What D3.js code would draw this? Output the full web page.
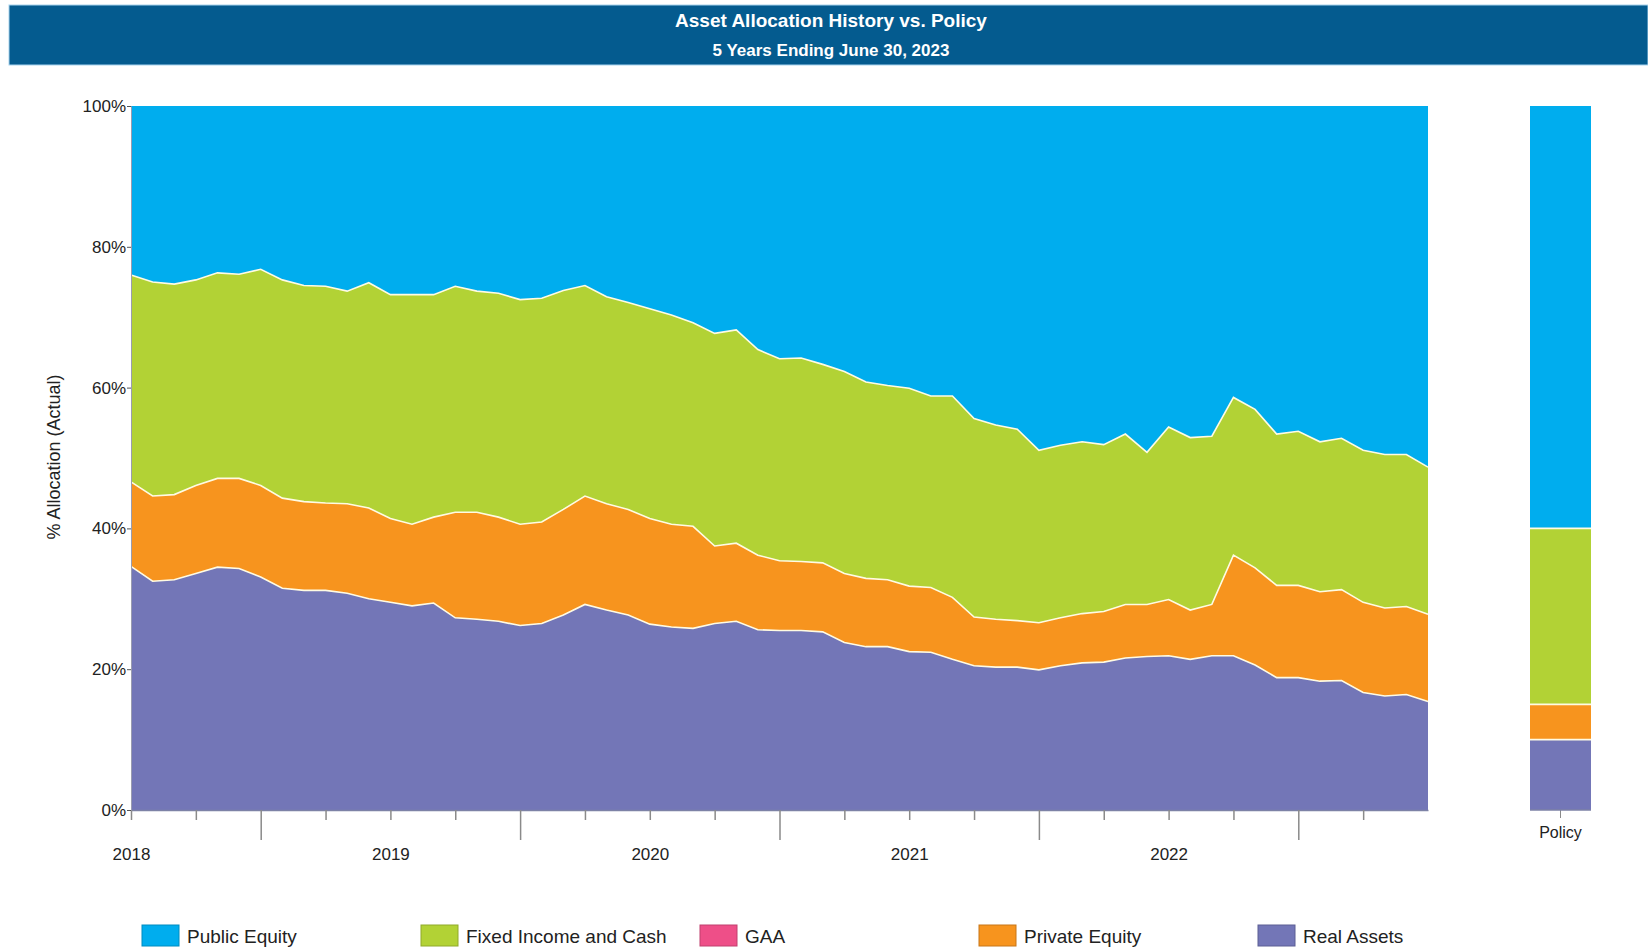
<!DOCTYPE html>
<html>
<head>
<meta charset="utf-8">
<script src="https://cdn.jsdelivr.net/npm/d3@7"></script>
<style>
  body { margin: 0; background: #fff; }
  #container svg { display: block; font-family: "Liberation Sans", Arial, sans-serif; }
</style>
</head>
<body>
<div id="container"></div>
<script>
// legend order (top of chart first)
const seriesNames = ["Public Equity", "Fixed Income and Cash", "GAA", "Private Equity", "Real Assets"];
const seriesColors = ["#00adee", "#b2d235", "#ee4f88", "#f7941e", "#7376b7"];
// stacking order, bottom to top
const stackOrder = ["Real Assets", "Private Equity", "GAA", "Fixed Income and Cash", "Public Equity"];

// monthly % allocation, Jun 2018 .. Jun 2023
const realAssets = [34.6, 32.5, 32.7, 33.6, 34.5, 34.3, 33.1, 31.5, 31.2, 31.2, 30.8, 30.0, 29.5, 29.0, 29.4, 27.3,
  27.1, 26.8, 26.2, 26.5, 27.7, 29.2, 28.4, 27.7, 26.4, 26.0, 25.8, 26.5, 26.8, 25.6, 25.5, 25.5, 25.3, 23.8, 23.2,
  23.2, 22.5, 22.4, 21.4, 20.5, 20.3, 20.3, 19.9, 20.5, 20.9, 21.0, 21.6, 21.8, 21.9, 21.4, 21.9, 21.9, 20.6, 18.8,
  18.8, 18.3, 18.4, 16.7, 16.2, 16.4, 15.4];
const privateEquity = [12.0, 12.1, 12.1, 12.5, 12.6, 12.8, 13.0, 12.8, 12.6, 12.4, 12.7, 12.9, 11.9, 11.6, 12.2, 15.0,
  15.2, 14.8, 14.4, 14.4, 15.0, 15.4, 15.1, 15.0, 15.0, 14.6, 14.5, 11.0, 11.1, 10.6, 9.9, 9.8, 9.8, 9.8, 9.7,
  9.5, 9.3, 9.2, 8.8, 6.9, 6.8, 6.6, 6.7, 6.8, 7.0, 7.2, 7.6, 7.4, 8.0, 7.0, 7.3, 14.3, 13.8, 13.1,
  13.1, 12.7, 12.9, 12.8, 12.5, 12.5, 12.4];
const gaa = [0, 0, 0, 0, 0, 0, 0, 0, 0, 0, 0, 0, 0, 0, 0, 0, 0, 0, 0, 0, 0, 0, 0, 0, 0, 0, 0, 0, 0, 0, 0,
  0, 0, 0, 0, 0, 0, 0, 0, 0, 0, 0, 0, 0, 0, 0, 0, 0, 0, 0, 0, 0, 0, 0, 0, 0, 0, 0, 0, 0, 0];
const fixedIncome = [29.4, 30.4, 29.9, 29.2, 29.2, 29.0, 30.7, 31.0, 30.7, 30.8, 30.2, 32.0, 31.8, 32.6, 31.6, 32.1,
  31.4, 31.8, 31.9, 31.8, 31.1, 29.9, 29.4, 29.4, 29.8, 29.7, 28.9, 30.2, 30.3, 29.2, 28.7, 28.9, 28.2, 28.7, 27.9,
  27.6, 28.1, 27.2, 28.6, 28.2, 27.6, 27.2, 24.5, 24.5, 24.4, 23.7, 24.2, 21.6, 24.5, 24.5, 23.9, 22.4, 22.5, 21.5,
  21.9, 21.3, 21.5, 21.6, 21.8, 21.6, 20.9];
const publicEquity = [24.0, 25.0, 25.3, 24.7, 23.7, 23.9, 23.2, 24.7, 25.5, 25.6, 26.3, 25.1, 26.8, 26.8, 26.8, 25.6,
  26.3, 26.6, 27.5, 27.3, 26.2, 25.5, 27.1, 27.9, 28.8, 29.7, 30.8, 32.3, 31.8, 34.6, 35.9, 35.8, 36.7, 37.7, 39.2,
  39.7, 40.1, 41.2, 41.2, 44.4, 45.3, 45.9, 48.9, 48.2, 47.7, 48.1, 46.6, 49.2, 45.6, 47.1, 46.9, 41.4, 43.1, 46.6,
  46.2, 47.7, 47.2, 48.9, 49.5, 49.5, 51.3];

// policy targets, same order as seriesNames
const policyValues = [60, 25, 0, 5, 10];

const yearLabels = ["2018", "2019", "2020", "2021", "2022"];
const yTicks = [0, 20, 40, 60, 80, 100];

const width = 1648, height = 951;
const plotLeft = 131, plotRight = 1428, plotTop = 106, plotBottom = 810;

const months = d3.utcMonths(new Date(Date.UTC(2018, 5, 1)), new Date(Date.UTC(2023, 6, 1)));
const valuesByName = {
  "Public Equity": publicEquity,
  "Fixed Income and Cash": fixedIncome,
  "GAA": gaa,
  "Private Equity": privateEquity,
  "Real Assets": realAssets
};
const rows = months.map((m, i) => {
  const row = { date: m, idx: i };
  seriesNames.forEach(n => row[n] = valuesByName[n][i]);
  return row;
});
const colorOf = d3.scaleOrdinal(seriesNames, seriesColors);

const x = d3.scaleLinear([0, months.length - 1], [plotLeft, plotRight]);
const y = d3.scaleLinear([0, 100], [plotBottom, plotTop]);

const svg = d3.select("#container").append("svg")
  .attr("width", width)
  .attr("height", height)
  .attr("viewBox", [0, 0, width, height]);

// header band
svg.append("rect")
  .attr("x", 9).attr("y", 5)
  .attr("width", width - 9).attr("height", 60)
  .attr("fill", "#045b8f")
  .attr("stroke", "#a8d4ee")
  .attr("stroke-width", 1);

svg.append("text")
  .attr("x", 831).attr("y", 20)
  .attr("dy", "0.35em")
  .attr("text-anchor", "middle")
  .attr("fill", "#fff")
  .attr("font-weight", "bold")
  .attr("font-size", 19)
  .text("Asset Allocation History vs. Policy");

svg.append("text")
  .attr("x", 831).attr("y", 50)
  .attr("dy", "0.35em")
  .attr("text-anchor", "middle")
  .attr("fill", "#fff")
  .attr("font-weight", "bold")
  .attr("font-size", 17)
  .text("5 Years Ending June 30, 2023");

// stacked areas
const stacked = d3.stack().keys(stackOrder)(rows);

const area = d3.area()
  .x(d => x(d.data.idx))
  .y0(d => y(d[0]))
  .y1(d => y(d[1]));

const edge = d3.line()
  .x(d => x(d.data.idx))
  .y(d => y(d[1]));

svg.append("g")
  .selectAll("path")
  .data(stacked.filter(s => s.key !== "GAA"))
  .join("path")
  .attr("fill", d => colorOf(d.key))
  .attr("d", area);

svg.append("g")
  .selectAll("path")
  .data(stacked.filter(s => s.key !== "Public Equity" && s.key !== "GAA"))
  .join("path")
  .attr("fill", "none")
  .attr("stroke", "#fffbe3")
  .attr("stroke-width", 1.6)
  .attr("d", edge);

// x axis: quarterly ticks, long ticks mid-year
const quarterTicks = d3.range(0, months.length - 1, 3);
const xAxis = svg.append("g")
  .attr("transform", `translate(0,${plotBottom})`)
  .call(d3.axisBottom(x)
    .tickValues(quarterTicks)
    .tickSize(10)
    .tickSizeOuter(0)
    .tickFormat(i => i % 12 === 0 ? yearLabels[i / 12] : ""));

xAxis.select(".domain").attr("stroke", "#7d82a6").attr("stroke-width", 1.5);
xAxis.selectAll(".tick line")
  .attr("stroke", "#8a8a8a")
  .attr("stroke-width", 1.5)
  .attr("y2", i => i % 12 === 6 ? 30 : 10);
xAxis.selectAll(".tick text")
  .attr("y", 38)
  .attr("fill", "#222")
  .attr("font-size", 17);

// y axis
const yAxis = svg.append("g")
  .attr("transform", `translate(${plotLeft},0)`)
  .call(d3.axisLeft(y)
    .tickValues(yTicks)
    .tickSize(4)
    .tickSizeOuter(0)
    .tickPadding(1)
    .tickFormat(d => d + "%"));

yAxis.select(".domain").attr("stroke", "#9a9cb0");
yAxis.selectAll(".tick line").attr("stroke", "#555");
yAxis.selectAll(".tick text")
  .attr("fill", "#222")
  .attr("font-size", 17);

svg.append("text")
  .attr("transform", "translate(54,457) rotate(-90)")
  .attr("text-anchor", "middle")
  .attr("dy", "0.35em")
  .attr("fill", "#222")
  .attr("font-size", 18)
  .text("% Allocation (Actual)");

// policy column
const px = d3.scaleBand(["Policy"], [1499.5, 1621.5]).paddingInner(0).paddingOuter(0.5);
const policyRow = { idx: 0 };
seriesNames.forEach((n, i) => policyRow[n] = policyValues[i]);
const policyStack = d3.stack().keys(stackOrder)([policyRow]);

svg.append("g")
  .selectAll("rect")
  .data(policyStack.filter(s => s[0][1] > s[0][0]))
  .join("rect")
  .attr("x", px("Policy"))
  .attr("width", px.bandwidth())
  .attr("y", d => y(d[0][1]))
  .attr("height", d => y(d[0][0]) - y(d[0][1]))
  .attr("fill", d => colorOf(d.key));

svg.append("g")
  .selectAll("line")
  .data(policyStack.filter(s => s.key !== "Public Equity" && s[0][1] > s[0][0]))
  .join("line")
  .attr("x1", px("Policy"))
  .attr("x2", px("Policy") + px.bandwidth())
  .attr("y1", d => y(d[0][1]))
  .attr("y2", d => y(d[0][1]))
  .attr("stroke", "#fffbe3")
  .attr("stroke-width", 1.6);

const pAxis = svg.append("g")
  .attr("transform", `translate(0,${plotBottom})`)
  .call(d3.axisBottom(px).tickSize(8).tickPadding(9));
pAxis.select(".domain").remove();
pAxis.append("line")
  .attr("x1", px("Policy"))
  .attr("x2", px("Policy") + px.bandwidth())
  .attr("stroke", "#7d82a6")
  .attr("stroke-width", 1.5);
pAxis.selectAll(".tick line").attr("stroke", "#8a8a8a");
pAxis.selectAll(".tick text").attr("fill", "#222").attr("font-size", 16);

// legend
const legend = svg.append("g")
  .selectAll("g")
  .data(seriesNames)
  .join("g")
  .attr("transform", (d, i) => `translate(${142 + i * 279},925)`);

legend.append("rect")
  .attr("width", 37)
  .attr("height", 21)
  .attr("fill", d => colorOf(d))
  .attr("stroke", d => d3.color(colorOf(d)).darker(0.6))
  .attr("stroke-width", 1);

legend.append("text")
  .attr("x", 45)
  .attr("y", 11)
  .attr("dy", "0.35em")
  .attr("fill", "#222")
  .attr("font-size", 19)
  .text(d => d);
</script>
</body>
</html>
